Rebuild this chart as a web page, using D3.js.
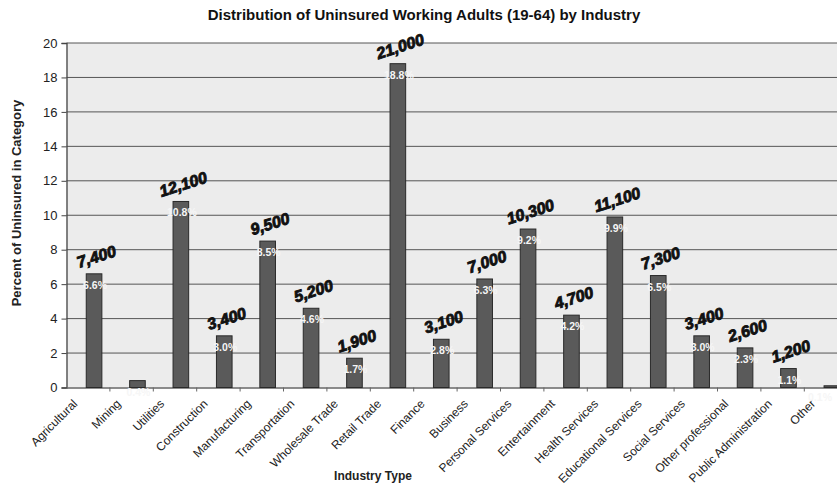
<!DOCTYPE html>
<html>
<head>
<meta charset="utf-8">
<script src="https://cdn.jsdelivr.net/npm/d3@7"></script>
<style>
  html, body { margin: 0; padding: 0; background: #fff; }
  svg { display: block; font-family: "Liberation Sans", Arial, sans-serif; }
</style>
</head>
<body>
<svg id="chart" width="837" height="486"></svg>
<script>
const categories = ["Agricultural", "Mining", "Utilities", "Construction", "Manufacturing",
  "Transportation", "Wholesale Trade", "Retail Trade", "Finance", "Business",
  "Personal Services", "Entertainment", "Health Services", "Educational Services",
  "Social Services", "Other professional", "Public Administration", "Other"];
const percents = [6.6, 0.4, 10.8, 3.0, 8.5, 4.6, 1.7, 18.8, 2.8, 6.3, 9.2, 4.2, 9.9, 6.5, 3.0, 2.3, 1.1, 0.1];
const counts = ["7,400", "", "12,100", "3,400", "9,500", "5,200", "1,900", "21,000", "3,100", "7,000",
  "10,300", "4,700", "11,100", "7,300", "3,400", "2,600", "1,200", ""];
const yTicks = [0, 2, 4, 6, 8, 10, 12, 14, 16, 18, 20];

(function () {
const data = categories.map((c, i) => ({ cat: c, pct: percents[i], count: counts[i] }));

const svg = d3.select("#chart");
const pLeft = 66.5, pTop = 43, pBottom = 387.5;
const bandW = 43.4;
const pRight = pLeft + bandW * categories.length;

const x = d3.scaleBand().domain(categories).range([pLeft, pRight]).padding(0);
const y = d3.scaleLinear().domain([0, 20]).range([pBottom, pTop]);

// title
svg.append("text").attr("x", 424).attr("y", 20).attr("text-anchor", "middle")
  .attr("font-size", 15).attr("font-weight", "bold").attr("fill", "#111")
  .text("Distribution of Uninsured Working Adults (19-64) by Industry");

// plot background
svg.append("rect").attr("x", pLeft).attr("y", pTop).attr("width", pRight - pLeft).attr("height", pBottom - pTop)
  .attr("fill", "#ececec");

// gridlines
svg.append("g").selectAll("line").data(yTicks.filter(d => d > 0)).join("line")
  .attr("x1", pLeft).attr("x2", pRight)
  .attr("y1", d => y(d)).attr("y2", d => y(d))
  .attr("stroke", "#555").attr("stroke-width", 1);

// y axis
const yAxis = svg.append("g").attr("transform", `translate(${pLeft},0)`)
  .call(d3.axisLeft(y).tickValues(yTicks).tickSize(5).tickPadding(4));
yAxis.select(".domain").attr("stroke", "#444").attr("stroke-width", 1.3);
yAxis.selectAll(".tick line").attr("stroke", "#444");
yAxis.selectAll(".tick text").attr("font-size", 13).attr("fill", "#222")
  .attr("font-family", "'Liberation Sans', Arial, sans-serif");

// x axis
const xAxis = svg.append("g").attr("transform", `translate(0,${pBottom})`)
  .call(d3.axisBottom(x).tickSize(0).tickFormat(""));
xAxis.select(".domain").attr("stroke", "#666").attr("stroke-width", 1.3);
// tick marks at band boundaries
svg.append("g").selectAll("line").data(categories).join("line")
  .attr("x1", d => x(d) + bandW).attr("x2", d => x(d) + bandW)
  .attr("y1", pBottom).attr("y2", pBottom + 4)
  .attr("stroke", "#666");

// x tick labels
svg.append("g").selectAll("text").data(categories).join("text")
  .attr("transform", d => `translate(${x(d) + bandW / 2 - 10},${pBottom + 17}) rotate(-45)`)
  .attr("text-anchor", "end")
  .attr("font-size", 12).attr("fill", "#222")
  .text(d => d);

// bars
svg.append("g").selectAll("rect").data(data).join("rect")
  .attr("x", d => x(d.cat) + bandW * 0.455)
  .attr("y", d => y(d.pct))
  .attr("width", bandW * 0.36)
  .attr("height", d => pBottom - y(d.pct))
  .attr("fill", "#5a5a5a").attr("stroke", "#2a2a2a").attr("stroke-width", 1);

// percent labels inside bars
svg.append("g").selectAll("text").data(data).join("text")
  .attr("x", d => Math.min(x(d.cat) + bandW * 0.635 + 1, 820))
  .attr("y", d => y(d.pct) + 15)
  .attr("text-anchor", "middle")
  .attr("font-size", 10.5).attr("font-weight", "bold").attr("fill", "#f6f6f6")
  .text(d => d.pct.toFixed(1) + "%");

// count labels above bars
svg.append("g").selectAll("text").data(data.filter(d => d.count)).join("text")
  .attr("transform", d => `translate(${x(d.cat) + bandW * 0.635 + 4},${y(d.pct) - 12}) rotate(-18)`)
  .attr("text-anchor", "middle")
  .attr("font-size", 16).attr("font-weight", "bold").attr("font-style", "italic")
  .attr("fill", "#111").attr("stroke", "#111").attr("stroke-width", 0.9)
  .text(d => d.count);

// axis titles
svg.append("text").attr("transform", `translate(21,203) rotate(-90)`)
  .attr("text-anchor", "middle").attr("font-size", 13).attr("font-weight", "bold").attr("fill", "#222")
  .text("Percent of Uninsured in Category");
svg.append("text").attr("x", 373).attr("y", 480).attr("text-anchor", "middle")
  .attr("font-size", 12).attr("font-weight", "bold").attr("fill", "#222")
  .text("Industry Type");
})();
</script>
</body>
</html>
